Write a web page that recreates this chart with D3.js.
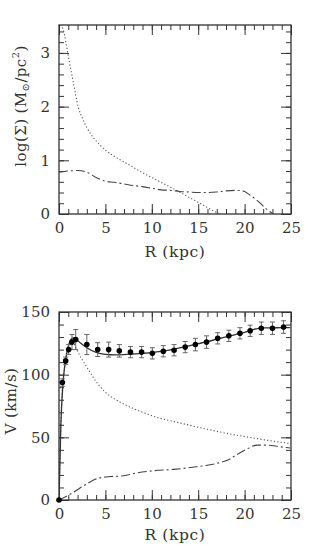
<!DOCTYPE html>
<html><head><meta charset="utf-8">
<script src="https://cdn.jsdelivr.net/npm/d3@7"></script>
<style>
body{margin:0;background:#fff;}
svg text{font-family:"DejaVu Serif",serif;fill:#333;}
</style></head>
<body><svg id="c" width="315" height="545"></svg>
<script>
// ---- Data ----
// Top panel: surface density log(Sigma) vs R
const sigmaStarDotted = [[0.15,3.52],[0.46,3.43],[1,2.94],[1.5,2.49],[2.08,1.99],[2.5,1.79],[3,1.61],[3.5,1.47],[4,1.36],[4.5,1.27],[5,1.19],[6,1.07],[7,0.97],[8,0.87],[9,0.77],[10,0.68],[11,0.59],[12,0.5],[13,0.41],[14,0.31],[15,0.22],[16,0.12],[17,0.03],[17.5,0]];
const sigmaGasDashed = [[0,0.78],[1,0.8],[2,0.81],[3,0.78],[4,0.68],[5,0.61],[6,0.59],[7,0.56],[8,0.53],[9,0.51],[10,0.48],[11,0.45],[12,0.44],[13,0.42],[14,0.41],[15,0.4],[16,0.4],[17,0.41],[18,0.43],[19,0.44],[19.8,0.43],[20.6,0.35],[21.5,0.23],[22.3,0.1],[23.1,0]];
// Bottom panel: rotation curve
const obsR   = [0,0.36,0.72,1.04,1.4,1.8,3.0,4.17,5.35,6.5,7.7,8.9,10.06,11.24,12.4,13.6,14.7,15.9,17.1,18.3,19.5,20.6,21.8,23.0,24.2];
const obsV   = [0,93.7,111,120,126,128,124,120,120,119,118,118,117,118.7,119.5,122,124,126,129,131,133,135,137,137,138];
const obsErr = [0,3,3,4,6,8,8,5.5,6,5,4.5,4.5,4.5,4.5,4.5,4.5,5,5,4.5,4.5,4.5,4.5,5,5,5];
const vTotal = [[0,0],[0.2,60],[0.4,90],[0.6,106],[0.8,116],[1.0,122.5],[1.2,127],[1.4,129],[1.6,129.3],[1.8,128.5],[2.2,126],[3,121.5],[4,117.8],[5,116.2],[6,115.8],[7,116],[8,116.5],[9,117],[10,117.6],[11,118.5],[12,119.8],[13,121.3],[14,123],[15,124.7],[16,126.4],[17,128.3],[18,130.2],[19,132],[19.8,133.3],[20.5,135],[21,136.2],[21.5,137],[22,137.3],[23,137.4],[24,137.5],[24.9,137.6]];
const vStarDotted = [[0,0],[0.3,80],[0.6,105],[0.9,119],[1.2,125],[1.5,126],[1.9,120],[2.5,112],[3,106],[4,94.5],[5,86],[6,80.5],[7,76.5],[8,73],[9,70],[10,67.3],[11,65],[12,63.2],[13,61.5],[14,59.8],[15,58],[16,56.4],[17,54.8],[18,53.3],[19,51.9],[20,50.6],[21,49.4],[22,48.2],[23,47.1],[24,46],[25,45]];
const vGasDashed = [[0,0],[1.37,5.3],[2.8,12],[3.9,16.5],[5.3,18.6],[6.75,19.1],[8.5,21.8],[10.3,23.4],[12.3,24.4],[14.8,26.5],[17,29.2],[18.2,31.9],[19.1,35.9],[20.2,40.4],[21.3,43.8],[22.4,43.8],[23.8,42.5],[24.9,41.5]];
const xTicks = [0,5,10,15,20,25];
const sigmaTicks = [0,1,2,3];
const vTicks = [0,50,100,150];

const svg = d3.select("#c");
const frameCol = "#333";

function panel(top, bottom, yDomain, yMajor, yMinorStep, xTitleY, yTitle, yTitleX, yTitleY) {
  const x = d3.scaleLinear().domain([0,25]).range([59,291]);
  const y = d3.scaleLinear().domain(yDomain).range([bottom, top]);
  const g = svg.append("g");
  const xMinor = d3.range(0,25.001,1);
  const yMinor = d3.range(yDomain[0], yDomain[1]+1e-6, yMinorStep);
  const styleAxis = sel => {
    sel.select(".domain").remove();
    sel.selectAll("line").attr("stroke",frameCol).attr("stroke-width",1);
    sel.selectAll("text").attr("font-size",15).attr("fill","#333").attr("font-family","DejaVu Serif, serif");
  };
  // minor ticks
  g.append("g").attr("transform",`translate(0,${bottom})`).call(d3.axisBottom(x).tickValues(xMinor).tickSizeInner(-5).tickSizeOuter(0).tickFormat("")).call(styleAxis);
  g.append("g").attr("transform",`translate(0,${top})`).call(d3.axisTop(x).tickValues(xMinor).tickSizeInner(-5).tickSizeOuter(0).tickFormat("")).call(styleAxis);
  g.append("g").attr("transform",`translate(59,0)`).call(d3.axisLeft(y).tickValues(yMinor).tickSizeInner(-5).tickSizeOuter(0).tickFormat("")).call(styleAxis);
  g.append("g").attr("transform",`translate(291,0)`).call(d3.axisRight(y).tickValues(yMinor).tickSizeInner(-5).tickSizeOuter(0).tickFormat("")).call(styleAxis);
  // major ticks
  g.append("g").attr("transform",`translate(0,${bottom})`).call(d3.axisBottom(x).tickValues(xTicks).tickSizeInner(-10).tickSizeOuter(0).tickPadding(8).tickFormat(d3.format("d"))).call(styleAxis);
  g.append("g").attr("transform",`translate(0,${top})`).call(d3.axisTop(x).tickValues(xTicks).tickSizeInner(-10).tickSizeOuter(0).tickFormat("")).call(styleAxis);
  g.append("g").attr("transform",`translate(59,0)`).call(d3.axisLeft(y).tickValues(yMajor).tickSizeInner(-10).tickSizeOuter(0).tickPadding(9).tickFormat(d3.format("d"))).call(styleAxis);
  g.append("g").attr("transform",`translate(291,0)`).call(d3.axisRight(y).tickValues(yMajor).tickSizeInner(-10).tickSizeOuter(0).tickFormat("")).call(styleAxis);
  // frame
  g.append("rect").attr("x",59).attr("y",top).attr("width",232).attr("height",bottom-top)
    .attr("fill","none").attr("stroke",frameCol).attr("stroke-width",1.3);
  // titles
  g.append("text").attr("x",175).attr("y",xTitleY).attr("text-anchor","middle").attr("font-size",15.5)
    .attr("letter-spacing",0.6).text("R (kpc)");
  const yt = g.append("text").attr("transform",`translate(${yTitleX},${yTitleY}) rotate(-90)`)
    .attr("text-anchor","middle").attr("dominant-baseline","central").attr("font-size",15).attr("letter-spacing",0.4);
  yTitle(yt);
  const clipId = "clip"+top;
  svg.append("clipPath").attr("id",clipId).append("rect").attr("x",59).attr("y",top).attr("width",232).attr("height",bottom-top);
  const plot = g.append("g").attr("clip-path",`url(#${clipId})`);
  return {x,y,plot};
}

// ---- Top panel ----
const P1 = panel(25, 214, [0,3.52], sigmaTicks, 0.2, 257, t => {
  t.append("tspan").text("log(Σ) (M");
  t.append("tspan").attr("font-size",10).attr("dy",4).text("⊙");
  t.append("tspan").attr("dy",-4).text("/pc");
  t.append("tspan").attr("font-size",10).attr("dy",-6).text("2");
  t.append("tspan").attr("dy",6).text(")");
}, 21, 106);
const line1 = d3.line().x(d=>P1.x(d[0])).y(d=>P1.y(d[1])).curve(d3.curveMonotoneX);
P1.plot.append("path").attr("d",line1(sigmaStarDotted)).attr("fill","none").attr("stroke","#555").attr("stroke-width",1.1).attr("stroke-dasharray","1.2,2.2");
P1.plot.append("path").attr("d",line1(sigmaGasDashed)).attr("fill","none").attr("stroke","#444").attr("stroke-width",1.1).attr("stroke-dasharray","9,3,2,3");

// ---- Bottom panel ----
const P2 = panel(312, 500, [0,150], vTicks, 10, 540, t => { t.text("V (km/s)"); }, 11, 401);
const line2 = d3.line().x(d=>P2.x(d[0])).y(d=>P2.y(d[1])).curve(d3.curveMonotoneX);
P2.plot.append("path").attr("d",line2(vStarDotted)).attr("fill","none").attr("stroke","#555").attr("stroke-width",1.1).attr("stroke-dasharray","1.2,2.2");
P2.plot.append("path").attr("d",line2(vGasDashed)).attr("fill","none").attr("stroke","#444").attr("stroke-width",1.1).attr("stroke-dasharray","9,3,2,3");
P2.plot.append("path").attr("d",line2(vTotal)).attr("fill","none").attr("stroke","#333").attr("stroke-width",1.3);
const obs = obsR.map((r,i)=>({r, v:obsV[i], e:obsErr[i]}));
const eb = svg.append("g").selectAll("g").data(obs.filter(d=>d.e>0)).join("g").attr("stroke","#666").attr("stroke-width",1);
eb.append("line").attr("x1",d=>P2.x(d.r)).attr("x2",d=>P2.x(d.r)).attr("y1",d=>P2.y(d.v-d.e)).attr("y2",d=>P2.y(d.v+d.e));
eb.append("line").attr("x1",d=>P2.x(d.r)-2.5).attr("x2",d=>P2.x(d.r)+2.5).attr("y1",d=>P2.y(d.v-d.e)).attr("y2",d=>P2.y(d.v-d.e));
eb.append("line").attr("x1",d=>P2.x(d.r)-2.5).attr("x2",d=>P2.x(d.r)+2.5).attr("y1",d=>P2.y(d.v+d.e)).attr("y2",d=>P2.y(d.v+d.e));
svg.append("g").selectAll("circle").data(obs).join("circle")
  .attr("cx",d=>P2.x(d.r)).attr("cy",d=>P2.y(d.v)).attr("r",2.8).attr("fill","#000");
</script></body></html>
